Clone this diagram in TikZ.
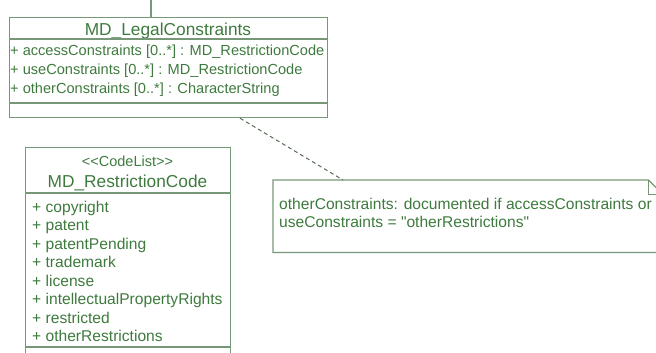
\documentclass[tikz,border=0pt]{standalone}
\usepackage{fontspec}
\setmainfont{Liberation Sans}[Ligatures=TeXOff]
\definecolor{umltext}{RGB}{62,122,62}
\definecolor{umlline}{RGB}{118,152,118}

\begin{document}
\begin{tikzpicture}[x=1pt,y=-1pt]
\tikzstyle{every node}=[text=umltext,inner sep=0pt]
\tikzstyle{umlbox}=[draw=umlline,line width=1.2pt,anchor=north west]
\tikzstyle{cname}=[anchor=base,font=\fontsize{17.3}{20}\selectfont]
\tikzstyle{attr}=[anchor=base west,font=\fontsize{14.6}{17}\selectfont]
\tikzstyle{item}=[anchor=base west,font=\fontsize{15.6}{18}\selectfont]
\useasboundingbox (0,0) rectangle (656,353);

% MD_LegalConstraints
\node[umlbox,minimum width=318pt,minimum height=100pt](legal) at (9,17){};
\coordinate (legalup) at (151,0);
\draw[umlline,line width=1.2pt](legalup)--(legalup |- legal.north);
\node[cname](legalname) at (168,36){MD\_LegalConstraints};
\draw[umlline,line width=1.2pt](9,39)--(327,39) (9,103)--(327,103);
\foreach \t [count=\i] in {{+ accessConstraints [0..*] : MD\_RestrictionCode},
  {+ useConstraints [0..*] : MD\_RestrictionCode},
  {+ otherConstraints [0..*] : CharacterString}}
  \node[attr](attr\i) at (10,{37.5+18.5*\i}){\t};

% MD_RestrictionCode
\node[umlbox,minimum width=205pt,minimum height=220pt](code) at (25,147){};
\node[anchor=base,font=\fontsize{14.5}{17}\selectfont](stereo) at (127.5,166)
  {<<CodeList>>};
\node[cname](codename) at (127.5,187){MD\_RestrictionCode};
\draw[umlline,line width=1.2pt](25,193)--(230,193) (25,347)--(230,347);
\foreach \t [count=\i from 0] in {copyright,patent,patentPending,trademark,
  license,intellectualPropertyRights,restricted,otherRestrictions}
  \node[item](item\i) at (32,{212+18.55*\i}){+ \t};

% note
\node[anchor=north west,minimum width=389pt,minimum height=72pt](note) at (273,180){};
\draw[umlline,line width=1.2pt](note.north west)--([xshift=-14pt]note.north east)
  --([yshift=-14pt]note.north east)--(note.south east)--(note.south west)--cycle;
\draw[umlline,line width=1pt]([xshift=-14pt]note.north east)|-([yshift=-14pt]note.north east);
\node[item](notea) at (279,209){otherConstraints: documented if accessConstraints or};
\node[item](noteb) at (279,227.5){useConstraints = "otherRestrictions"};
\draw[dashed,dash pattern=on 4pt off 3pt,color=umlline!70!black,line width=1pt]
  ([xshift=231pt]legal.south west)--([xshift=70pt]note.north west);

\end{tikzpicture}
\end{document}
